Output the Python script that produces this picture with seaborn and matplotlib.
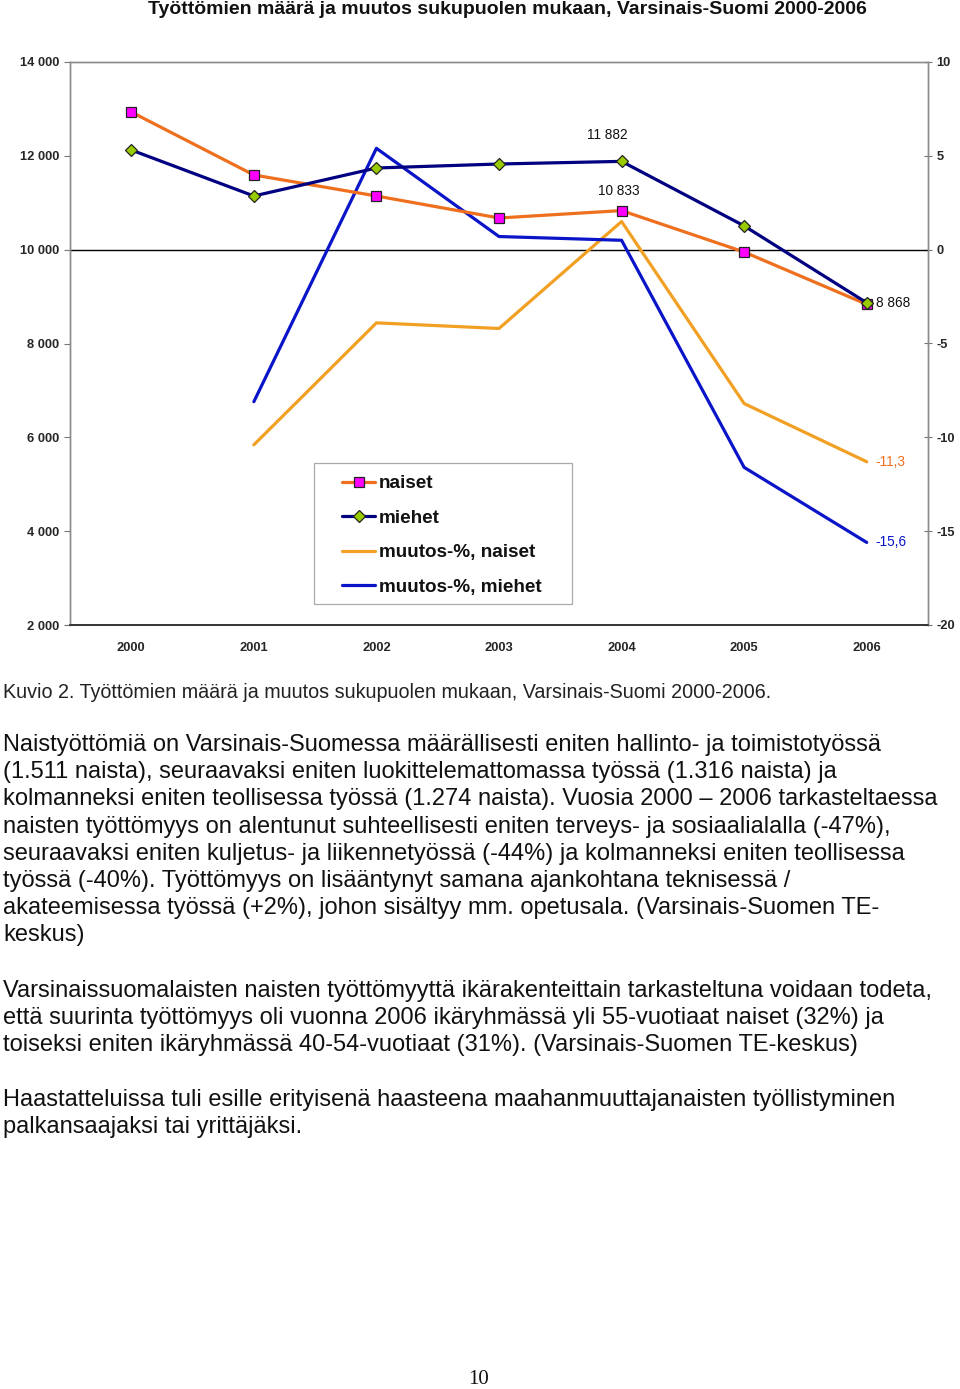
import matplotlib
matplotlib.use("Agg")
import matplotlib.pyplot as plt
import seaborn as sns
import numpy as np
import pandas as pd
from matplotlib.lines import Line2D
from matplotlib.patches import Rectangle

# ---------------- data ----------------
years = ["2000", "2001", "2002", "2003", "2004", "2005", "2006"]
naiset = [12934, 11592, 11144, 10675, 10833, 9950, 8835]
miehet = [12124, 11144, 11741, 11826, 11882, 10507, 8868]
muutos_naiset = [np.nan, -10.4, -3.9, -4.2, 1.5, -8.2, -11.3]
muutos_miehet = [np.nan, -8.1, 5.4, 0.7, 0.5, -11.6, -15.6]
left_ticks = [2000, 4000, 6000, 8000, 10000, 12000, 14000]
left_tick_labels = ["2 000", "4 000", "6 000", "8 000", "10 000", "12 000", "14 000"]
right_ticks = [-20, -15, -10, -5, 0, 5, 10]
series_names = ["naiset", "miehet", "muutos-%, naiset", "muutos-%, miehet"]

title = "Työttömien määrä ja muutos sukupuolen mukaan, Varsinais-Suomi 2000-2006"
caption = "Kuvio 2. Työttömien määrä ja muutos sukupuolen mukaan, Varsinais-Suomi 2000-2006."
para1 = [
    "Naistyöttömiä on Varsinais-Suomessa määrällisesti eniten hallinto- ja toimistotyössä",
    "(1.511 naista), seuraavaksi eniten luokittelemattomassa työssä (1.316 naista) ja",
    "kolmanneksi eniten teollisessa työssä (1.274 naista). Vuosia 2000 – 2006 tarkasteltaessa",
    "naisten työttömyys on alentunut suhteellisesti eniten terveys- ja sosiaalialalla (-47%),",
    "seuraavaksi eniten kuljetus- ja liikennetyössä (-44%) ja kolmanneksi eniten teollisessa",
    "työssä (-40%). Työttömyys on lisääntynyt samana ajankohtana teknisessä /",
    "akateemisessa työssä (+2%), johon sisältyy mm. opetusala. (Varsinais-Suomen TE-",
    "keskus)",
]
para2 = [
    "Varsinaissuomalaisten naisten työttömyyttä ikärakenteittain tarkasteltuna voidaan todeta,",
    "että suurinta työttömyys oli vuonna 2006 ikäryhmässä yli 55-vuotiaat naiset (32%) ja",
    "toiseksi eniten ikäryhmässä 40-54-vuotiaat (31%). (Varsinais-Suomen TE-keskus)",
]
para3 = [
    "Haastatteluissa tuli esille erityisenä haasteena maahanmuuttajanaisten työllistyminen",
    "palkansaajaksi tai yrittäjäksi.",
]
page_number = "10"

# ---------------- style ----------------
sns.set_theme(style="white")
plt.rcParams["font.family"] = ["Liberation Sans", "DejaVu Sans"]

W, H = 960, 1389
fig = plt.figure(figsize=(W / 100, H / 100), dpi=100)

def fx(px):
    return px / W

def fy(py):
    return 1 - py / H

ax_left, ax_right, ax_top, ax_bottom = 70, 928, 62, 625
ax = fig.add_axes([fx(ax_left), fy(ax_bottom), fx(ax_right - ax_left), (ax_bottom - ax_top) / H])
ax2 = ax.twinx()

x = np.arange(len(years))
df = pd.DataFrame({"x": x, "naiset": naiset, "miehet": miehet,
                   "mn": muutos_naiset, "mm": muutos_miehet})

c_naiset = "#EE6F1E"
c_miehet = "#000080"
c_mn = "#F2A024"
c_mm = "#0A14C8"

lw = 2.3
sns.lineplot(data=df, x="x", y="mn", ax=ax2, color=c_mn, linewidth=lw, legend=False)
sns.lineplot(data=df, x="x", y="mm", ax=ax2, color=c_mm, linewidth=lw, legend=False)
sns.lineplot(data=df, x="x", y="naiset", ax=ax, color=c_naiset, linewidth=lw,
             marker="s", markersize=6.5, markerfacecolor="#FF00FF",
             markeredgecolor="#222222", markeredgewidth=0.9, legend=False, zorder=5)
sns.lineplot(data=df, x="x", y="miehet", ax=ax, color=c_miehet, linewidth=lw,
             marker="D", markersize=6, markerfacecolor="#99CC00",
             markeredgecolor="#222222", markeredgewidth=0.9, legend=False, zorder=6)
ax.set_zorder(ax2.get_zorder() + 1)
ax.patch.set_visible(False)

# axes limits and ticks
ax.set_xlim(-0.5, len(years) - 0.5)
ax.set_ylim(2000, 14000)
ax2.set_ylim(-20, 10)
ax.set_xlabel("")
ax.set_ylabel("")
ax2.set_ylabel("")

tfs = 9.3
ax.set_yticks(left_ticks)
ax.set_yticklabels(left_tick_labels, fontsize=tfs, fontweight="bold")
ax2.set_yticks(right_ticks)
ax2.set_yticklabels([str(v) for v in right_ticks], fontsize=tfs, fontweight="bold")

ax.set_xticks(x)
ax.set_xticklabels(years, fontsize=tfs, fontweight="bold")
ax.set_xticks(np.arange(-0.5, len(years), 1.0), minor=True)
ax.tick_params(axis="x", which="major", length=0, pad=12)
ax.tick_params(axis="x", which="minor", length=5, width=0.8, color="#777777", direction="inout")
ax.tick_params(axis="y", which="major", length=4, width=0.8, color="#777777", direction="out", pad=4)
ax2.tick_params(axis="y", which="major", length=6, width=0.8, color="#777777", direction="inout", pad=3)

for a in (ax, ax2):
    for s in a.spines.values():
        s.set_color("#8a8a8a")
        s.set_linewidth(1.0)
ax.spines["bottom"].set_color("#333333")
ax.spines["bottom"].set_linewidth(1.2)
ax2.spines["bottom"].set_color("#333333")
ax2.spines["bottom"].set_linewidth(1.2)

# zero line of secondary axis (category axis crossing)
ax2.axhline(0, color="black", linewidth=1.0, zorder=1)

# data labels
lab_kw = dict(fontsize=9.8, textcoords="offset points")
ax.annotate("11 882", (x[4], miehet[4]), xytext=(-10, 19), ha="center", va="center", color="#111111", **lab_kw)
ax.annotate("10 833", (x[4], naiset[4]), xytext=(-2, 14), ha="center", va="center", color="#111111", **lab_kw)
ax.annotate("8 868", (x[6], miehet[6]), xytext=(7, 0), ha="left", va="center", color="#111111", **lab_kw)
ax2.annotate("-11,3", (x[6], muutos_naiset[6]), xytext=(6, 0), ha="left", va="center", color=c_naiset, **lab_kw)
ax2.annotate("-15,6", (x[6], muutos_miehet[6]), xytext=(6, 0), ha="left", va="center", color=c_mm, **lab_kw)

# legend (frame drawn separately for independent horizontal / vertical padding)
handles = [
    Line2D([], [], color=c_naiset, linewidth=lw, marker="s", markersize=6.5,
           markerfacecolor="#FF00FF", markeredgecolor="#222222", markeredgewidth=0.9),
    Line2D([], [], color=c_miehet, linewidth=lw, marker="D", markersize=6,
           markerfacecolor="#99CC00", markeredgecolor="#222222", markeredgewidth=0.9),
    Line2D([], [], color=c_mn, linewidth=lw),
    Line2D([], [], color=c_mm, linewidth=lw),
]
frame = Rectangle((fx(314), fy(604)), fx(572 - 314), (604 - 463) / H, transform=fig.transFigure,
                  facecolor="white", edgecolor="#aaaaaa", linewidth=0.9, zorder=19)
fig.patches.append(frame)
leg = fig.legend(handles, series_names, loc="upper left",
                 bbox_to_anchor=(fx(342), fy(475)), bbox_transform=fig.transFigure,
                 prop={"family": "Liberation Sans", "weight": "bold", "size": 13.6},
                 frameon=False, handlelength=1.75, handletextpad=0.22, labelspacing=0.92,
                 borderpad=0, borderaxespad=0)
leg.set_zorder(20)
for t in leg.get_texts():
    t.set_color("#111111")

# title
fig.text(fx(507), fy(10), title, ha="center", va="center", fontsize=14, fontweight="bold", color="#111111")

# caption and body text
fig.text(fx(3), fy(692), caption, ha="left", va="center", fontsize=14.2, color="#222222")

body_kw = dict(ha="left", va="center", fontsize=17.0, color="#111111")
y0 = 745
step = 27.2
for i, line in enumerate(para1):
    fig.text(fx(3), fy(y0 + i * step), line, **body_kw)
y0 = 991
for i, line in enumerate(para2):
    fig.text(fx(3), fy(y0 + i * step), line, **body_kw)
y0 = 1100
for i, line in enumerate(para3):
    fig.text(fx(3), fy(y0 + i * step), line, **body_kw)

fig.text(fx(479), fy(1379), page_number, ha="center", va="center", fontsize=15,
         family=["Liberation Serif", "DejaVu Serif"], color="#111111")

fig.savefig("out.png", dpi=100)
